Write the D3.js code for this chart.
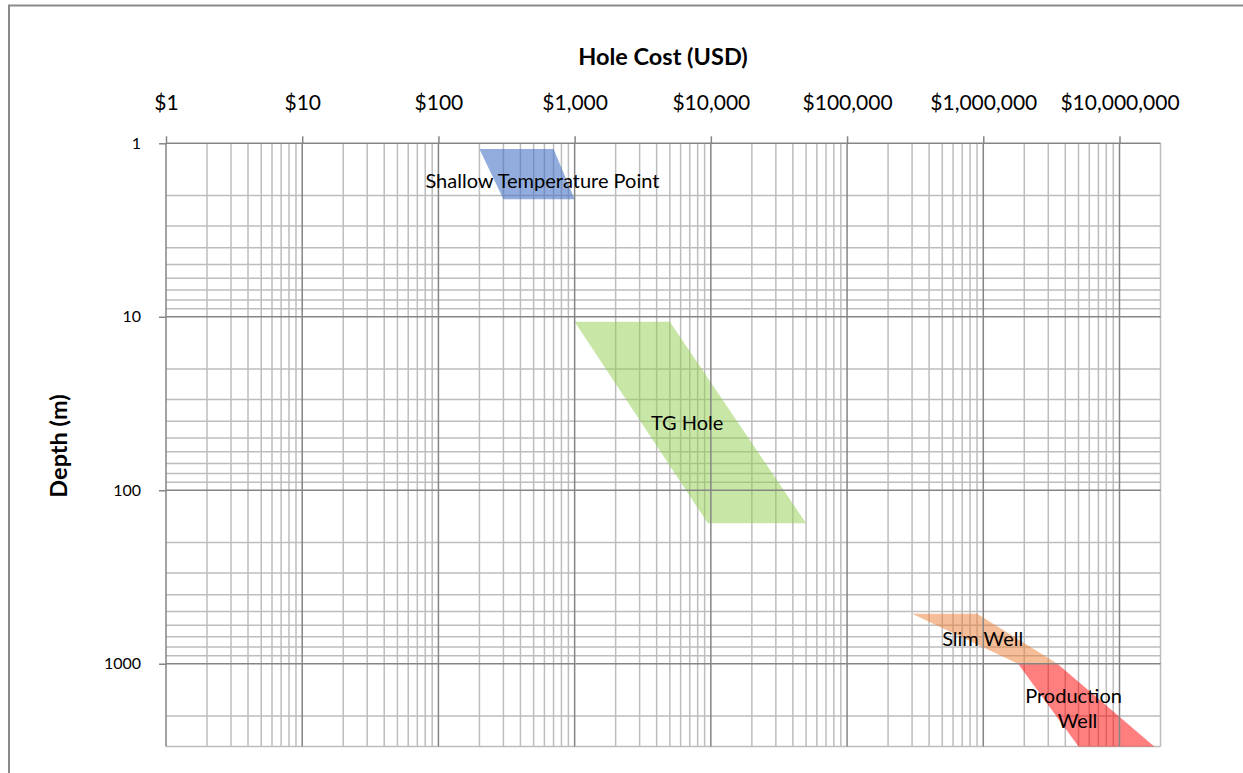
<!DOCTYPE html>
<html>
<head>
<meta charset="utf-8">
<script src="https://cdn.jsdelivr.net/npm/d3@7"></script>
<style>
  html, body { margin: 0; padding: 0; background: #fff; }
  svg { display: block; font-family: Lato, "Open Sans", sans-serif; }
</style>
</head>
<body>
<svg id="chart" width="1243" height="773"></svg>
<script>
// Axis extents and tick labels
const costDomain = [1, 2e7];
const depthDomain = [1, 3000];
const costTicks = [1, 10, 100, 1000, 1e4, 1e5, 1e6, 1e7];
const costTickLabels = ["$1", "$10", "$100", "$1,000", "$10,000", "$100,000", "$1,000,000", "$10,000,000"];
const depthTicks = [1, 10, 100, 1000];
const depthTickLabels = ["1", "10", "100", "1000"];

// Cost/depth envelope of each hole type: [cost USD, depth m] corners
const shallowPoly = [[200, 1.08], [700, 1.08], [1000, 2.1], [300, 2.1]];
const tgPoly = [[1000, 10.7], [5000, 10.7], [50000, 155], [9500, 155]];
const slimPoly = [[300000, 515], [900000, 515], [3500000, 1000], [1800000, 1000]];
const productionPoly = [[1800000, 1000], [3500000, 1000], [18000000, 3000], [5000000, 3000]];

const regionNames = ["Shallow Temperature Point", "TG Hole", "Slim Well", "Production Well"];
const regionColors = ["#4472C4", "#92D050", "#ED7D31", "#FF0000"];
const regionOpacity = [0.58, 0.5, 0.5, 0.5];
const regionPolys = [shallowPoly, tgPoly, slimPoly, productionPoly];
// Label anchor [cost, depth] (baseline of first line) and text lines
const labelAnchors = [[580, 1.82], [6700, 45], [990000, 790], [4600000, 1680]];
const labelLines = [["Shallow Temperature Point"], ["TG Hole"], ["Slim Well"], ["Production", "Well"]];

const svg = d3.select("#chart");
const W = 1243, H = 773;
const m = { left: 166, right: 1160.5, top: 143.3, bottom: 746.5 };

// frame around the figure
svg.append("path")
  .attr("d", `M9,${H} L9,5.5 L${W},5.5`)
  .attr("fill", "none").attr("stroke", "#8a8a8a").attr("stroke-width", 2);

const x = d3.scaleLog().domain(costDomain).range([m.left, m.right]);
const y = d3.scaleLog().domain(depthDomain).range([m.top, m.bottom]);

// grid values: 1..9 of each decade
function logGrid(lo, hi) {
  const out = [];
  for (let p = Math.floor(Math.log10(lo)); Math.pow(10, p) <= hi; p++) {
    for (let k = 1; k <= 9; k++) {
      const v = k * Math.pow(10, p);
      if (v >= lo && v <= hi * 1.0001) out.push(v);
    }
  }
  return out;
}
const xGrid = logGrid(costDomain[0], costDomain[1]);
const yGrid = logGrid(depthDomain[0], depthDomain[1]);
const isMajor = v => Math.abs(Math.log10(v) - Math.round(Math.log10(v))) < 1e-9;

const grid = svg.append("g");
grid.selectAll("line.vx").data(xGrid.filter(v => !isMajor(v))).join("line")
  .attr("x1", d => x(d)).attr("x2", d => x(d))
  .attr("y1", m.top).attr("y2", m.bottom)
  .attr("stroke", "#bdbdbd").attr("stroke-width", 1.5);
grid.selectAll("line.hy").data(yGrid.filter(v => !isMajor(v))).join("line")
  .attr("y1", d => y(d)).attr("y2", d => y(d))
  .attr("x1", m.left).attr("x2", m.right)
  .attr("stroke", "#bdbdbd").attr("stroke-width", 1.5);

// Polygons for each hole type
const line = d3.line().x(d => x(d[0])).y(d => y(d[1]));
svg.append("g").selectAll("path").data(regionPolys).join("path")
  .attr("d", d => line(d) + "Z")
  .attr("fill", (d, i) => regionColors[i])
  .attr("fill-opacity", (d, i) => regionOpacity[i]);

// Major gridlines drawn over
const major = svg.append("g");
major.selectAll("line.mx").data(xGrid.filter(isMajor)).join("line")
  .attr("x1", d => x(d)).attr("x2", d => x(d))
  .attr("y1", m.top).attr("y2", m.bottom)
  .attr("stroke", "#858585").attr("stroke-width", 1.5);
major.selectAll("line.my").data(yGrid.filter(isMajor)).join("line")
  .attr("y1", d => y(d)).attr("y2", d => y(d))
  .attr("x1", m.left).attr("x2", m.right)
  .attr("stroke", "#858585").attr("stroke-width", 1.5);

// Top axis
const xAxis = d3.axisTop(x).tickValues(costTicks)
  .tickFormat((d, i) => costTickLabels[i]).tickSize(7).tickPadding(26);
const gx = svg.append("g").attr("transform", `translate(0,${m.top})`).call(xAxis);
gx.select(".domain").remove();
gx.selectAll(".tick line").attr("stroke", "#858585").attr("stroke-width", 1.5);
gx.selectAll(".tick text").attr("font-size", 21).attr("fill", "#000")
  .attr("font-family", "Lato, sans-serif");

// Left axis
const yAxis = d3.axisLeft(y).tickValues(depthTicks)
  .tickFormat((d, i) => depthTickLabels[i]).tickSize(7).tickPadding(18);
const gy = svg.append("g").attr("transform", `translate(${m.left},0)`).call(yAxis);
gy.select(".domain").remove();
gy.selectAll(".tick line").attr("stroke", "#858585").attr("stroke-width", 1.5);
gy.selectAll(".tick text").attr("font-size", 16).attr("fill", "#000")
  .attr("font-family", "Lato, sans-serif");

// Axis titles
svg.append("text").attr("x", 663).attr("y", 65).attr("text-anchor", "middle")
  .attr("font-size", 23.5).attr("font-weight", "bold").text("Hole Cost (USD)");
svg.append("text").attr("transform", "translate(67,446) rotate(-90)")
  .attr("text-anchor", "middle").attr("font-size", 23.5).attr("font-weight", "bold")
  .text("Depth (m)");

// Region labels
const labels = svg.append("g");
labelAnchors.forEach((a, i) => {
  const t = labels.append("text")
    .attr("x", x(a[0])).attr("y", y(a[1]))
    .attr("text-anchor", "middle").attr("font-size", 20).attr("fill", "#000");
  labelLines[i].forEach((s, j) => {
    t.append("tspan").attr("x", x(a[0]) + (j === 0 ? 0 : 4)).attr("dy", j === 0 ? 0 : 25).text(s);
  });
});
</script>
</body>
</html>
